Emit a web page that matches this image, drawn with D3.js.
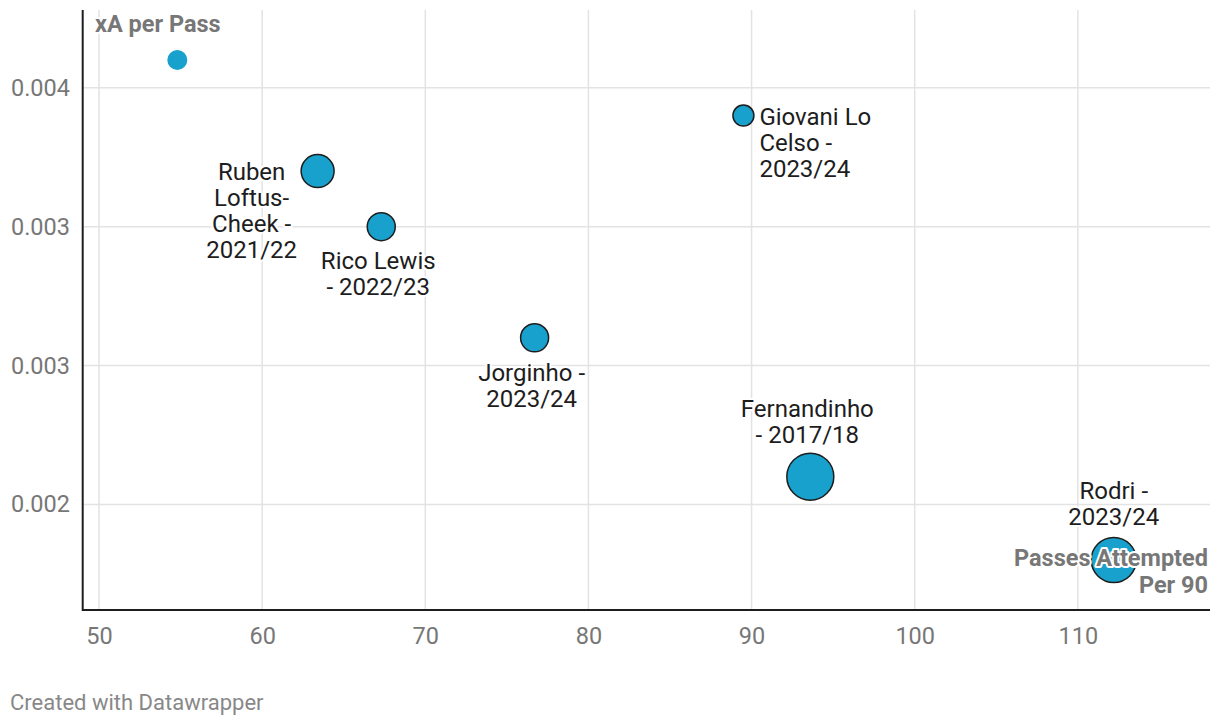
<!DOCTYPE html>
<html><head><meta charset="utf-8">
<script src="https://cdn.jsdelivr.net/npm/d3@7"></script>
<style>
html,body{margin:0;padding:0;background:#fff;}
svg text{font-family:Roboto,"Noto Sans",sans-serif;}
</style></head>
<body>
<svg id="chart" width="1220" height="726"></svg>
<script>
// ---- data ----
const players = ["", "Giovani Lo Celso - 2023/24", "Ruben Loftus-Cheek - 2021/22", "Rico Lewis - 2022/23", "Jorginho - 2023/24", "Fernandinho - 2017/18", "Rodri - 2023/24"];
const passesPer90 = [54.8, 89.5, 63.4, 67.3, 76.7, 93.6, 112.2];
const xaPerPass = [0.0041, 0.0039, 0.0037, 0.0035, 0.0031, 0.0026, 0.0023];
const bubbleSize = [100, 110, 272, 196, 196, 552, 506];
const xTicks = [50, 60, 70, 80, 90, 100, 110];
const yTicks = [0.004, 0.0035, 0.003, 0.0025];
const yTickLabels = ["0.004", "0.003", "0.003", "0.002"];

// ---- layout ----
const W = 1220, H = 726;
const svg = d3.select("#chart");
svg.append("rect").attr("width", W).attr("height", H).attr("fill", "#fff");

const x = d3.scaleLinear().domain([49, 118.1]).range([82.7, 1210]);
const y = d3.scaleLinear().domain([0.00212, 0.00428]).range([610, 10]);
const r = d3.scaleSqrt().domain([0, 552]).range([0, 23.5]);

// grid
const grid = svg.append("g");
grid.selectAll("line.gx").data(xTicks).join("line")
  .attr("x1", d => x(d)).attr("x2", d => x(d)).attr("y1", 10).attr("y2", 610)
  .attr("stroke", "#e3e3e3").attr("stroke-width", 1.5);
grid.selectAll("line.gy").data(yTicks).join("line")
  .attr("x1", 82.7).attr("x2", 1210).attr("y1", d => y(d)).attr("y2", d => y(d))
  .attr("stroke", "#e3e3e3").attr("stroke-width", 1.5);

// axes (via d3 axis, restyled)
const xAxis = svg.append("g").attr("transform", "translate(0,610)")
  .call(d3.axisBottom(x).tickValues(xTicks).tickSize(0).tickPadding(17).tickFormat(d3.format("d")));
xAxis.select(".domain").remove();
xAxis.selectAll("text").attr("font-size", 23.5).attr("fill", "#777").attr("font-family", "Roboto");

const yAxis = svg.append("g").attr("transform", "translate(70,0)")
  .call(d3.axisLeft(y).tickValues(yTicks).tickSize(0).tickPadding(0).tickFormat((d, i) => yTickLabels[i]));
yAxis.select(".domain").remove();
yAxis.selectAll("text").attr("font-size", 23.5).attr("fill", "#777").attr("font-family", "Roboto");

// axis lines
svg.append("line").attr("x1", 82.7).attr("x2", 82.7).attr("y1", 10).attr("y2", 611)
  .attr("stroke", "#1d1d1d").attr("stroke-width", 2);
svg.append("line").attr("x1", 82).attr("x2", 1210).attr("y1", 610).attr("y2", 610)
  .attr("stroke", "#1d1d1d").attr("stroke-width", 2);

// points
const pts = players.map((p, i) => ({name: p, x: passesPer90[i], y: xaPerPass[i], s: bubbleSize[i], i}));
svg.append("g").selectAll("circle").data(pts).join("circle")
  .attr("cx", d => x(d.x)).attr("cy", d => y(d.y)).attr("r", d => r(d.s))
  .attr("fill", "#18a1cd")
  .attr("stroke", d => d.name ? "#1d1d1d" : "none").attr("stroke-width", 1.5);

// labels (annotation layout: line breaks, anchor, offset from point)
const labelLayout = {
  1: {lines: ["Giovani Lo", "Celso -", "2023/24"], anchor: "start", dx: 16, dy: 9},
  2: {lines: ["Ruben", "Loftus-", "Cheek -", "2021/22"], anchor: "middle", dx: -66, dy: 9},
  3: {lines: ["Rico Lewis", "- 2022/23"], anchor: "middle", dx: -3, dy: 42},
  4: {lines: ["Jorginho -", "2023/24"], anchor: "middle", dx: -3, dy: 43},
  5: {lines: ["Fernandinho", "- 2017/18"], anchor: "middle", dx: -3, dy: -60},
  6: {lines: ["Rodri -", "2023/24"], anchor: "middle", dx: 0, dy: -61}
};
const lg = svg.append("g");
pts.filter(d => labelLayout[d.i]).forEach(d => {
  const L = labelLayout[d.i];
  const t = lg.append("text")
    .attr("x", x(d.x) + L.dx).attr("y", y(d.y) + L.dy)
    .attr("text-anchor", L.anchor).attr("font-size", 24).attr("fill", "#1d1d1d")
    .attr("stroke", "#fff").attr("stroke-width", 4).attr("paint-order", "stroke").attr("stroke-linejoin", "round");
  L.lines.forEach((ln, k) => t.append("tspan").attr("x", x(d.x) + L.dx).attr("dy", k === 0 ? 0 : 26).text(ln));
});

// axis titles
svg.append("text").attr("x", 95).attr("y", 32).attr("font-size", 23.5).attr("font-weight", 700)
  .attr("fill", "#777").attr("stroke", "#fff").attr("stroke-width", 4).attr("paint-order", "stroke")
  .text("xA per Pass");
const xt = svg.append("text").attr("x", 1208).attr("y", 566).attr("text-anchor", "end")
  .attr("font-size", 23.5).attr("font-weight", 700).attr("fill", "#777")
  .attr("stroke", "#fff").attr("stroke-width", 4).attr("paint-order", "stroke").attr("stroke-linejoin", "round");
xt.append("tspan").attr("x", 1208).text("Passes Attempted");
xt.append("tspan").attr("x", 1208).attr("dy", 27).text("Per 90");

// footer
svg.append("text").attr("x", 10).attr("y", 710).attr("font-size", 22).attr("fill", "#888")
  .text("Created with Datawrapper");
</script>
</body></html>
